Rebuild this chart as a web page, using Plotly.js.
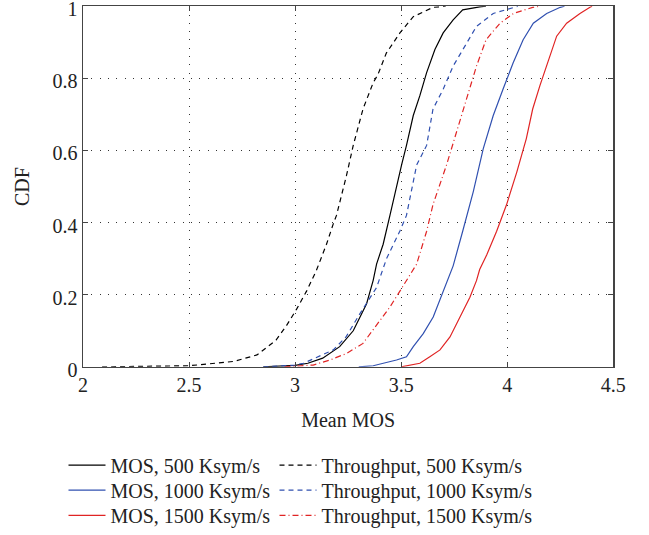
<!DOCTYPE html>
<html><head><meta charset="utf-8">
<script src="https://cdn.plot.ly/plotly-3.0.1.min.js"></script>
<style>html,body{margin:0;padding:0;background:#fff}</style>
</head><body><div id="chart" style="width:649px;height:535px"></div>
<script>
const seriesNames = ["MOS, 500 Ksym/s", "MOS, 1000 Ksym/s", "MOS, 1500 Ksym/s", "Throughput, 500 Ksym/s", "Throughput, 1000 Ksym/s", "Throughput, 1500 Ksym/s"];
const xTicks = [2, 2.5, 3, 3.5, 4, 4.5];
const yTicks = [0, 0.2, 0.4, 0.6, 0.8, 1];

const mos500_x = [2.85, 3.0, 3.06, 3.13, 3.21, 3.274, 3.337, 3.368, 3.384, 3.415, 3.447, 3.478, 3.502, 3.525, 3.557, 3.588, 3.62, 3.659, 3.698, 3.745, 3.79, 3.87, 3.9];
const mos500_y = [0, 0.004, 0.01, 0.024, 0.056, 0.10, 0.175, 0.24, 0.285, 0.34, 0.42, 0.504, 0.56, 0.614, 0.697, 0.752, 0.816, 0.88, 0.926, 0.962, 0.99, 0.998, 1.0];

const mos1000_x = [3.3, 3.368, 3.478, 3.525, 3.557, 3.604, 3.651, 3.698, 3.745, 3.79, 3.84, 3.887, 3.934, 3.98, 4.028, 4.075, 4.123, 4.186, 4.25, 4.27];
const mos1000_y = [0, 0.003, 0.019, 0.028, 0.056, 0.092, 0.138, 0.21, 0.28, 0.376, 0.486, 0.605, 0.697, 0.77, 0.843, 0.907, 0.953, 0.98, 0.997, 1.0];

const mos1500_x = [3.5, 3.525, 3.588, 3.635, 3.683, 3.73, 3.777, 3.824, 3.855, 3.87, 3.903, 3.95, 3.997, 4.045, 4.09, 4.12, 4.154, 4.186, 4.233, 4.28, 4.343, 4.39, 4.4];
const mos1500_y = [0, 0.003, 0.01, 0.028, 0.047, 0.083, 0.138, 0.193, 0.239, 0.27, 0.31, 0.376, 0.45, 0.54, 0.633, 0.715, 0.78, 0.834, 0.917, 0.953, 0.98, 0.997, 1.0];

const thr500_x = [2.09, 2.3, 2.5, 2.71, 2.82, 2.91, 2.96, 3.007, 3.054, 3.10, 3.148, 3.179, 3.195, 3.242, 3.274, 3.32, 3.368, 3.39, 3.43, 3.494, 3.557, 3.65, 3.71];
const thr500_y = [0, 0.001, 0.003, 0.015, 0.033, 0.074, 0.115, 0.16, 0.21, 0.267, 0.34, 0.395, 0.42, 0.53, 0.614, 0.715, 0.788, 0.81, 0.87, 0.926, 0.971, 0.997, 1.0];

const thr1000_x = [2.85, 3.0, 3.04, 3.18, 3.24, 3.305, 3.384, 3.431, 3.494, 3.525, 3.573, 3.62, 3.65, 3.698, 3.745, 3.79, 3.855, 3.934, 4.013, 4.05];
const thr1000_y = [0, 0.005, 0.01, 0.047, 0.083, 0.147, 0.22, 0.30, 0.377, 0.42, 0.56, 0.614, 0.715, 0.77, 0.834, 0.88, 0.944, 0.98, 0.993, 1.0];

const thr1500_x = [2.95, 3.085, 3.164, 3.242, 3.32, 3.40, 3.447, 3.494, 3.525, 3.573, 3.62, 3.65, 3.714, 3.76, 3.81, 3.855, 3.90, 3.966, 4.03, 4.12, 4.15];
const thr1500_y = [0, 0.005, 0.019, 0.037, 0.065, 0.13, 0.166, 0.21, 0.24, 0.285, 0.376, 0.45, 0.56, 0.65, 0.742, 0.834, 0.907, 0.953, 0.98, 0.997, 1.0];

const xs = [mos500_x, mos1000_x, mos1500_x, thr500_x, thr1000_x, thr1500_x];
const ys = [mos500_y, mos1000_y, mos1500_y, thr500_y, thr1000_y, thr1500_y];
const colors = ["#000000", "#3050b0", "#e02424", "#000000", "#3050b0", "#e02424"];
const dashes = ["solid", "solid", "solid", "5px,4px", "5px,4px", "6px,3px,1px,3px"];
const legendIds = ["legend", "legend2", "legend3", "legend4", "legend5", "legend6"];

const traces = seriesNames.map((n, i) => ({
  type: "scatter", mode: "lines", name: n, x: xs[i], y: ys[i], legend: legendIds[i],
  line: {color: colors[i], width: 1.2, dash: dashes[i]}
}));

const W = 649, H = 535;
const font = {family: "Liberation Serif, Times New Roman, serif", size: 20, color: "#222"};
const axisCommon = {
  showline: true, linecolor: "#444", linewidth: 1.5, mirror: "allticks",
  ticks: "inside", ticklen: 5, tickcolor: "#444", ticklabeloverflow: "allow",
  showgrid: true, gridcolor: "#333", gridwidth: 1, griddash: "1px,7.3px",
  zeroline: false, tickfont: font
};
// legend slot positions in pixels (left edge, top edge)
const colLeft = [63.5, 274.5];
const rowTop = [449.9, 475.1, 500.5];
const layout = {
  width: W, height: H,
  margin: {l: 0, r: 0, t: 0, b: 0},
  paper_bgcolor: "#fff", plot_bgcolor: "#fff",
  font: font,
  showlegend: true,
  xaxis: Object.assign({}, axisCommon, {domain: [83 / W, 613.3 / W], range: [2, 4.5], tickmode: "array", tickvals: xTicks, ticktext: xTicks.map(String),
    title: {text: "Mean MOS", font: font, standoff: 17}}),
  yaxis: Object.assign({}, axisCommon, {domain: [(H - 370.3) / H, (H - 6.3) / H], range: [0, 1], tickmode: "array", tickvals: yTicks, ticktext: yTicks.map(String),
    ticklabelshift: 3,
    title: {text: "CDF", font: font, standoff: 17}})
};
legendIds.forEach((id, i) => {
  const col = Math.floor(i / 3), row = i % 3;
  layout[id] = {orientation: "v", xanchor: "left", yanchor: "top",
    x: colLeft[col] / W, y: 1 - rowTop[row] / H,
    itemwidth: 37, font: font, bgcolor: "rgba(0,0,0,0)", borderwidth: 0};
});
Plotly.newPlot("chart", traces, layout, {displayModeBar: false, staticPlot: true});
</script></body></html>
